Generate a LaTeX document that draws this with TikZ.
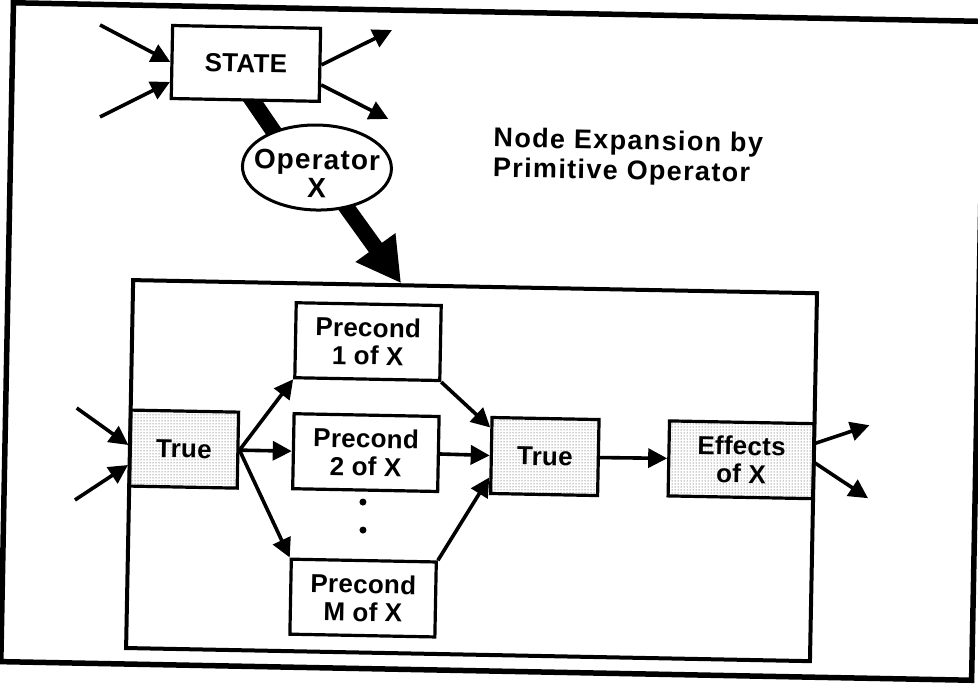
\documentclass[tikz,border=0pt]{standalone}
\usepackage{fontspec}
\setmainfont{Liberation Sans}[LetterSpace=1]
\usetikzlibrary{arrows.meta,patterns,shapes.geometric,calc,backgrounds}

\tikzset{
  lbl/.style={font=\fontsize{26}{28}\selectfont\bfseries, align=center},
  box/.style={lbl, draw, line width=3.2pt, fill=white, inner sep=0pt,
              minimum width=145pt, minimum height=75pt},
  stipple/.style={box, pattern=dots, pattern color=black!80},
  opfont/.style={font=\fontsize{28}{28}\selectfont\bfseries\addfontfeatures{LetterSpace=4}},
  headline/.style={font=\fontsize{27}{27}\selectfont\bfseries\addfontfeatures{LetterSpace=5},
                   inner sep=0pt, anchor=base west},
  arr/.style={line width=3.6pt, -{Triangle[length=19pt,width=19pt]}},
  heavy/.style={line width=16pt},
}

\begin{document}
\begin{tikzpicture}[x=1pt,y=-1pt]
\begin{scope}[on background layer]
  \fill[white] (0,0) rectangle (978,685);
\end{scope}
\useasboundingbox (0,0) rectangle (978,685);

\begin{scope}[rotate around={-1.1:(492,343)}, transform shape]
  % outer frame and the expansion box
  \draw[line width=5.5pt] (7,12) rectangle (978,671);
  \node[draw, line width=4pt, minimum width=684pt, minimum height=368pt,
        inner sep=0pt] (inner) at (474,471) {};

  % state and operator
  \node[box, minimum width=148pt, minimum height=73pt] (state) at (240.6,68.2) {STATE};
  \node[ellipse, draw, line width=3pt, fill=white, minimum width=149pt,
        minimum height=85pt, inner sep=0pt,
        label={[opfont, align=center, inner sep=0pt, yshift=-6pt]center:Operator\\X}]
        (op) at (313.6,170.9) {};

  % heading
  \node[headline] (ttl1) at (489.5,147) {Node Expansion by};
  \node[headline] (ttl2) at (489.5,177) {Primitive Operator};

  % expansion network
  \node[stipple, minimum width=108pt, minimum height=76pt] (t1) at (186,455) {True};
  \node[box] (p1) at (368,344) {Precond\\1 of X};
  \node[box] (p2) at (368,455) {Precond\\2 of X};
  \node[box] (pm) at (368,600.5) {Precond\\M of X};
  \node[stipple, minimum width=107pt, minimum height=76pt] (t2) at (547,455.5) {True};
  \node[stipple] (fx) at (743.5,455) {Effects\\of X};

  \fill (366,504.5) circle (3.5pt);
  \fill (366.6,532.5) circle (3.5pt);

  % loose ends
  \coordinate (sA) at (94,32.5);
  \coordinate (sB) at (95.7,124.5);
  \coordinate (sC) at (386,32);
  \coordinate (sD) at (384,121);
  \coordinate (tA) at (78,416);
  \coordinate (tB) at (78,508);
  \coordinate (fA) at (871,418);
  \coordinate (fB) at (871,491);

  \draw[arr] (sA) -- (state.west);
  \draw[arr] (sB) -- ($(state.west)+(0,20)$);
  \draw[arr] (state.east) -- (sC);
  \draw[arr] ($(state.east)+(0,20)$) -- (sD);

  \draw[arr] (tA) -- ($(t1.west)+(0,-3)$);
  \draw[arr] (tB) -- ($(t1.west)+(0,17)$);
  \draw[arr] (t1.east) -- (p1.south west);
  \draw[arr] (t1.east) -- (p2.west);
  \draw[arr] (t1.east) -- (pm.north west);
  \draw[arr] (p1.south east) -- ($(t2.west)+(0,-28)$);
  \draw[arr] (p2.east) -- (t2.west);
  \draw[arr] (pm.north east) -- ($(t2.west)+(0,22)$);
  \draw[arr] (t2.east) -- (fx.west);
  \draw[arr] ($(fx.east)+(0,-18)$) -- (fA);
  \draw[arr] ($(fx.east)+(0,2)$) -- (fB);

  % heavy bars from the state through the operator into the box
  \begin{scope}[on background layer]
    \draw[heavy] ($(state.south)+(-3.7,-16.5)$) -- ($(op.center)+(-31,-17)$);
    \draw[heavy, -{Triangle[length=44pt,width=46pt]}]
      ($(op.center)+(18.8,23.9)$) -- ($(inner.north west)+(270,0)$);
  \end{scope}
\end{scope}
\end{tikzpicture}
\end{document}
